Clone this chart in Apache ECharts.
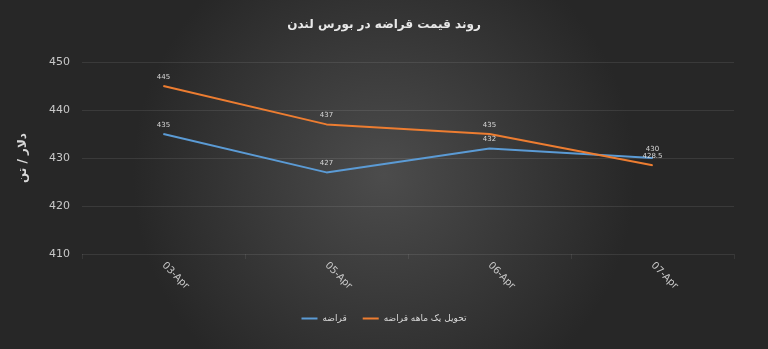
<!DOCTYPE html>
<html><head><meta charset="utf-8">
<script src="https://cdn.jsdelivr.net/npm/echarts@6/dist/echarts.min.js"></script>
<style>html,body{margin:0;padding:0;background:#333}#c{width:768px;height:349px}</style>
</head><body><div id="c"></div>
<script>
const categories = ['03-Apr', '05-Apr', '06-Apr', '07-Apr'];
const scrap = [435, 427, 432, 430];
const scrapMonth = [445, 437, 435, 428.5];
const yTicks = [410, 420, 430, 440, 450];
const titleText = 'روند قیمت قراضه در بورس لندن';
const yName = 'دلار / تن';
const seriesNames = ['قراضه', 'تحویل یک ماهه قراضه'];

const font = 'DejaVu Sans';
const chart = echarts.init(document.getElementById('c'));
const lbl = {show: true, position: 'top', color: '#d9d9d9', fontSize: 7, fontFamily: font, distance: 5};
chart.setOption({
  backgroundColor: {
    type: 'radial', x: 0.5, y: 0.5, r: 0.72,
    colorStops: [{offset: 0, color: '#4c4c4c'}, {offset: 1, color: '#272727'}]
  },
  animation: false,
  title: {
    text: titleText, left: 'center', top: 14,
    textStyle: {color: '#e8e8e8', fontSize: 12, fontWeight: 'bold', fontFamily: font}
  },
  legend: {
    bottom: 21, left: 'center', itemGap: 16,
    itemWidth: 16, itemHeight: 2, icon: 'rect',
    textStyle: {color: '#d9d9d9', fontSize: 9, fontFamily: font},
    data: seriesNames
  },
  grid: {left: 82, right: 34, top: 62, bottom: 95},
  xAxis: {
    type: 'category', data: categories, boundaryGap: true,
    axisLine: {show: false},
    axisTick: {show: true, lineStyle: {color: 'rgba(255,255,255,0.08)'}},
    axisLabel: {rotate: -45, color: '#c8c8c8', fontSize: 10, fontFamily: font, margin: 10}
  },
  yAxis: {
    type: 'value', min: yTicks[0], max: yTicks[yTicks.length - 1], interval: 10,
    name: yName, nameLocation: 'middle', nameGap: 53,
    nameTextStyle: {color: '#d9d9d9', fontSize: 12, fontWeight: 'bold', fontFamily: font},
    axisLine: {show: false}, axisTick: {show: false},
    axisLabel: {color: '#c8c8c8', fontSize: 11, fontFamily: font, margin: 12},
    splitLine: {lineStyle: {color: 'rgba(255,255,255,0.09)', width: 1}}
  },
  series: [
    {
      name: seriesNames[0], type: 'line', data: scrap,
      symbol: 'circle', symbolSize: 1, showSymbol: true,
      lineStyle: {color: '#5b9bd5', width: 2}, itemStyle: {color: '#5b9bd5'},
      label: lbl
    },
    {
      name: seriesNames[1], type: 'line', data: scrapMonth,
      symbol: 'circle', symbolSize: 1, showSymbol: true,
      lineStyle: {color: '#ed7d31', width: 2}, itemStyle: {color: '#ed7d31'},
      label: lbl
    }
  ]
});
</script></body></html>
